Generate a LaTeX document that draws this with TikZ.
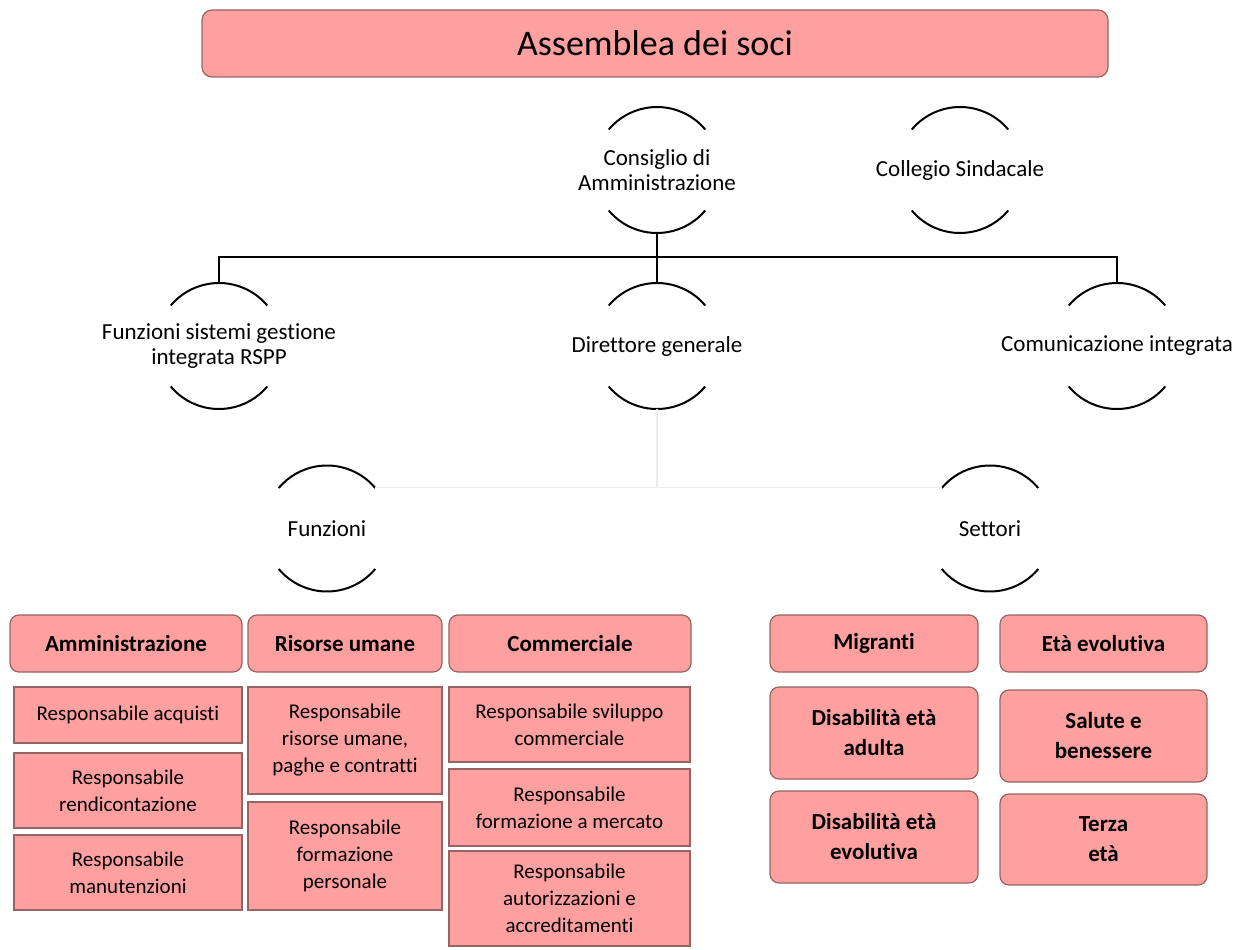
\documentclass[tikz,border=0pt]{standalone}
\usepackage{fontspec}
\setmainfont{Carlito}[Ligatures=NoCommon]
\definecolor{boxfill}{RGB}{255,160,160}
\definecolor{boxline}{RGB}{150,100,100}
\definecolor{faintline}{RGB}{236,236,236}
\tikzset{
  base/.style={fill=boxfill, draw=boxline, line width=1.2pt, inner sep=0pt, align=center},
  roundbox/.style={base, rounded corners=9pt, font=\fontsize{23}{30}\selectfont\bfseries},
  subbox/.style={base, font=\fontsize{21}{27}\selectfont},
  circshape/.style={circle, minimum size=126pt, inner sep=0pt},
  circtext/.style={inner sep=0pt, align=center, font=\fontsize{23}{25}\selectfont},
  arcline/.style={line width=2pt, black},
  conn/.style={line width=2pt, black},
  faint/.style={line width=1.2pt, faintline},
}
\newcommand{\circnode}[3]{%
  \node[circshape] (#1) at (#2) {};
  \node[circtext] (#1-t) at (#1.center) {#3};
  \draw[arcline] ([shift={(40:63pt)}]#1.center) arc (40:140:63pt);
  \draw[arcline] ([shift={(220:63pt)}]#1.center) arc (220:320:63pt);
}
\begin{document}
\begin{tikzpicture}[x=1pt,y=1pt]
\useasboundingbox (0,0) rectangle (1242,-950);

% top
\node[base, rounded corners=10pt, minimum width=906pt, minimum height=67pt, font=\fontsize{36}{40}\selectfont] (ads) at (655,-43.5) {Assemblea dei soci};

% circles
\circnode{cda}{657,-170}{Consiglio di\\Amministrazione}
\circnode{cs}{960,-170}{Collegio Sindacale}
\circnode{fsg}{219,-346}{Funzioni sistemi gestione\\integrata RSPP}
\circnode{dg}{657,-346}{Direttore generale}
\circnode{com}{1117,-346}{Comunicazione integrata}
\circnode{fz}{327,-528.5}{Funzioni}
\circnode{st}{990,-528.5}{Settori}

% connectors
\coordinate (bus) at (657,-257);
\draw[conn] (cda.south) -- (dg.north);
\draw[conn] (fsg.north) |- (bus) -| (com.north);
\coordinate (fj) at (657,-488);
\draw[faint] (dg.south) -- (fj);
\draw[faint] (fz.40) -- (st.140);

% Funzioni headers
\node[roundbox, minimum width=232pt, minimum height=57pt] (amm) at (126,-643.5) {Amministrazione};
\node[roundbox, minimum width=194pt, minimum height=57pt] (ris) at (345,-643.5) {Risorse umane};
\node[roundbox, minimum width=242pt, minimum height=57pt] (comm) at (570,-643.5) {Commerciale};

% sub boxes
\node[subbox, minimum width=228pt, minimum height=56pt] (acq) at (128,-715) {Responsabile acquisti};
\node[subbox, minimum width=228pt, minimum height=75pt] (rend) at (128,-790.5) {Responsabile\\rendicontazione};
\node[subbox, minimum width=228pt, minimum height=75pt] (man) at (128,-872.5) {Responsabile\\manutenzioni};
\node[subbox, minimum width=194pt, minimum height=107pt] (risu) at (345,-740.5) {Responsabile\\risorse umane,\\paghe e contratti};
\node[subbox, minimum width=194pt, minimum height=108pt] (form) at (345,-856) {Responsabile\\formazione\\personale};
\node[subbox, minimum width=241pt, minimum height=75pt] (svil) at (569.5,-724.5) {Responsabile sviluppo\\commerciale};
\node[subbox, minimum width=241pt, minimum height=77pt] (formm) at (569.5,-807.5) {Responsabile\\formazione a mercato};
\node[subbox, minimum width=241pt, minimum height=95pt] (aut) at (569.5,-898.5) {Responsabile\\autorizzazioni e\\accreditamenti};

% Settori boxes
\node[roundbox, minimum width=208pt, minimum height=57pt] (mig) at (874,-643.5) {Migranti};
\node[roundbox, minimum width=207pt, minimum height=57pt] (etae) at (1103.5,-643.5) {Età evolutiva};
\node[roundbox, minimum width=208pt, minimum height=92pt] (disa) at (874,-733) {Disabilità età\\adulta};
\node[roundbox, minimum width=207pt, minimum height=92pt] (sal) at (1103.5,-736) {Salute e\\benessere};
\node[roundbox, minimum width=208pt, minimum height=92pt] (dise) at (874,-837) {Disabilità età\\evolutiva};
\node[roundbox, minimum width=207pt, minimum height=91pt] (ter) at (1103.5,-839.5) {Terza\\età};
\end{tikzpicture}
\end{document}
